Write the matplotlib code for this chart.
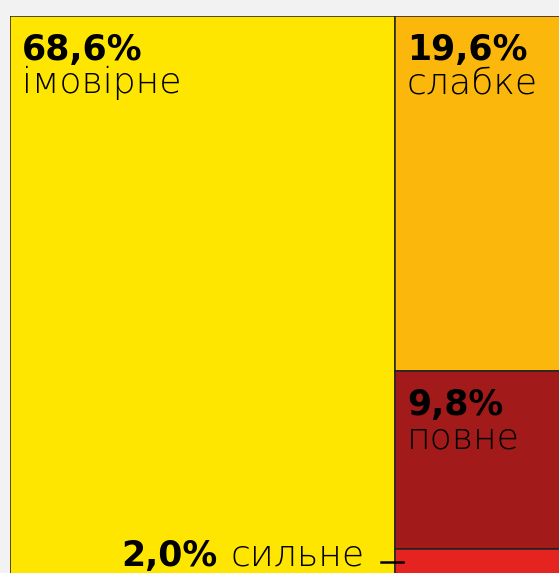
import matplotlib.pyplot as plt
import matplotlib.transforms as mtrans
from matplotlib.patches import Rectangle

# shares of each category, percent
labels = ["імовірне", "слабке", "повне", "сильне"]
values = [68.6, 19.6, 9.8, 2.0]
pct_labels = ["68,6%", "19,6%", "9,8%", "2,0%"]
colors = ["#FFE600", "#FBB70C", "#A31A1A", "#E52421"]

DPI = 100
fig = plt.figure(figsize=(5.59, 5.73), dpi=DPI, facecolor="#F2F2F2")
# treemap runs past the right and bottom edges of the picture
ax = fig.add_axes([10 / 559, -12 / 573, 561 / 559, 569 / 573])
ax.set_xlim(0, 1)
ax.set_ylim(0, 1)
ax.axis("off")

# big block on the left, the rest stacked in a column on the right
total = sum(values)
big_w = values[0] / total
rects = [(0, 0, big_w, 1)]
rest = sum(values[1:])
top = 1.0
for v in values[1:]:
    h = v / rest
    rects.append((big_w, top - h, 1 - big_w, h))
    top -= h

for (x, y, w, h), c in zip(rects, colors):
    ax.add_patch(Rectangle((x, y), w, h, facecolor=c, edgecolor="#222222", lw=1.1))

bold = dict(family="DejaVu Sans", weight="heavy", fontsize=25, color="black")
light = dict(family="DejaVu Sans", weight="light", fontsize=26, color="black")

for i in range(3):
    x, y, w, h = rects[i]
    ax.annotate(pct_labels[i], (x, y + h), xytext=(12, -44), textcoords="offset pixels",
                ha="left", va="baseline", **bold)
    ax.annotate(labels[i], (x, y + h), xytext=(12, -77), textcoords="offset pixels",
                ha="left", va="baseline", **light)

# small category: label outside with a short leader tick
x, y, w, h = rects[3]
off = mtrans.offset_copy(ax.transData, fig=fig, x=0, y=-13, units="dots")
ax.plot([x - 0.025, x + 0.014], [y + h, y + h], color="black", lw=1.8,
        transform=off, clip_on=False)

lab = ax.annotate(labels[3], (x, y + h), xytext=(-30, -17), textcoords="offset pixels",
                  ha="right", va="baseline", **light)
fig.canvas.draw()
bb = lab.get_window_extent()
x0 = ax.transData.inverted().transform((bb.x0, bb.y0))[0]
ax.annotate(pct_labels[3], (x0, y + h), xytext=(-13, -17), textcoords="offset pixels",
            ha="right", va="baseline", **bold)

fig.savefig("out.png", dpi=DPI, facecolor=fig.get_facecolor())
